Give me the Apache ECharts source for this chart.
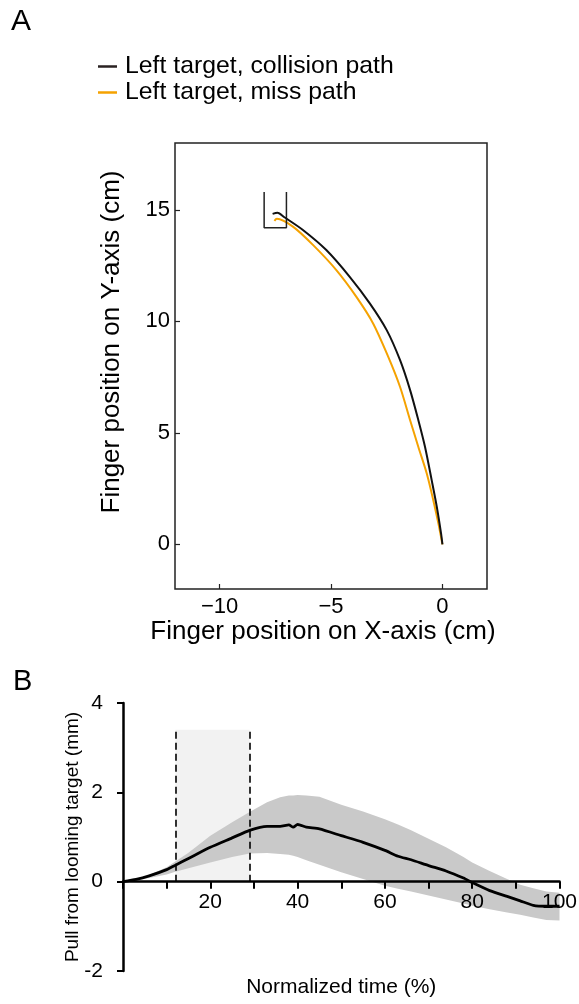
<!DOCTYPE html>
<html>
<head>
<meta charset="utf-8">
<script src="https://cdn.jsdelivr.net/npm/echarts@6/dist/echarts.min.js"></script>
<style>html,body{margin:0;padding:0;background:#fff}#c{width:579px;height:1004px}</style>
</head>
<body>
<div id="c"></div>
<script>
// ---------- Panel A data ----------
const legendNames = ['Left target, collision path', 'Left target, miss path'];
const collisionPath = [[0,0],[-0.06,0.48],[-0.25,1.67],[-0.48,2.87],[-0.78,4.37],[-1.08,5.57],[-1.45,6.92],[-1.9,8.26],[-2.5,9.61],[-3.26,10.81],[-4.16,12.0],[-5.21,13.2],[-6.26,14.1],[-7.09,14.67],[-7.4,14.87],[-7.62,14.82]];
const missPath = [[0,0],[-0.18,0.93],[-0.41,1.98],[-0.7,3.17],[-1.08,4.37],[-1.45,5.57],[-1.9,7.06],[-2.43,8.41],[-3.11,9.91],[-3.86,11.1],[-4.76,12.3],[-5.81,13.43],[-6.71,14.25],[-7.43,14.6],[-7.54,14.51]];
const targetBracket = [[-8,15.8],[-8,14.2],[-7,14.2],[-7,15.8]];
const xTicksA = [-10,-5,0];
const yTicksA = [0,5,10,15];

// ---------- Panel B data ----------
const timePct = [0,3,6,10,12,15,20,25,29,33,36,38,39,40,42,45,50,55,60,63,66,70,74,78,80,84,88,91,94,97,100];
const meanPull = [0,0.05,0.13,0.27,0.37,0.52,0.77,0.98,1.15,1.24,1.24,1.27,1.22,1.28,1.22,1.18,1.03,0.88,0.70,0.57,0.49,0.36,0.24,0.08,-0.02,-0.20,-0.33,-0.43,-0.53,-0.55,-0.55];
const upperPull = [0,0.06,0.15,0.32,0.45,0.65,1.03,1.33,1.56,1.78,1.89,1.93,1.93,1.94,1.93,1.90,1.72,1.57,1.40,1.28,1.15,0.96,0.77,0.55,0.43,0.24,0.06,-0.07,-0.15,-0.22,-0.25];
const lowerPull = [0,0.03,0.08,0.16,0.22,0.30,0.43,0.55,0.63,0.64,0.62,0.60,0.58,0.55,0.48,0.38,0.21,0.06,-0.09,-0.16,-0.22,-0.31,-0.40,-0.49,-0.54,-0.62,-0.69,-0.74,-0.80,-0.86,-0.87];
const windowStart = 12, windowEnd = 29, windowTop = 3.4;
const yMinB = -2, yMaxB = 4;

const FONT = '"Liberation Sans", Arial, Helvetica, sans-serif';
const chart = echarts.init(document.getElementById('c'), null, {renderer: 'canvas'});

const pair = (arr) => timePct.map((t, i) => [t, arr[i]]);
const minusFmt = v => v < 0 ? '\u2212' + Math.abs(v) : String(v);

// panel B layout (pixels)
const gridBTop = 703, gridBHeight = 268;
// move the time axis up so that it sits on y = 0
const zeroOffsetB = -gridBHeight * (0 - yMinB) / (yMaxB - yMinB);

chart.setOption({
  animation: false,
  textStyle: {fontFamily: FONT, color: '#000'},
  graphic: [
    {type: 'text', left: 11, top: 7, style: {text: 'A', font: '30px ' + FONT, fill: '#000'}},
    {type: 'text', left: 13, top: 667, style: {text: 'B', font: '29px ' + FONT, fill: '#000'}}
  ],
  legend: {
    data: legendNames,
    orient: 'vertical',
    left: 98, top: 54, padding: 0,
    icon: 'rect', itemWidth: 19, itemHeight: 2.5, itemGap: 1,
    textStyle: {fontSize: 24.8, fontFamily: FONT, color: '#000', padding: [0,0,0,3]}
  },
  grid: [
    {left: 175, top: 143, width: 312, height: 446, show: true, borderColor: '#222', borderWidth: 1.5, backgroundColor: 'transparent', outerBoundsMode: 'none', containLabel: false},
    {left: 123, top: gridBTop, width: 436.5, height: gridBHeight, outerBoundsMode: 'none', containLabel: false}
  ],
  xAxis: [
    {
      gridIndex: 0, type: 'value', min: -12, max: 2,
      axisLine: {show: false, onZero: false},
      axisTick: {show: true, inside: true, length: 5, customValues: xTicksA, lineStyle: {color: '#222', width: 1.2}},
      axisLabel: {customValues: xTicksA, formatter: minusFmt, fontSize: 22, color: '#000', margin: 7, fontFamily: FONT},
      splitLine: {show: false},
      name: 'Finger position on X-axis (cm)', nameLocation: 'middle', nameGap: 30,
      nameTextStyle: {fontSize: 26, color: '#000', fontFamily: FONT, padding: [0, 16, 0, 0]}
    },
    {
      gridIndex: 1, type: 'value', min: 0, max: 100, interval: 10, z: 3,
      position: 'bottom', offset: zeroOffsetB,
      axisLine: {show: true, onZero: false, lineStyle: {color: '#000', width: 2.5}},
      axisTick: {show: true, inside: false, length: 7, lineStyle: {color: '#000', width: 2}},
      axisLabel: {formatter: v => (v > 0 && v % 20 === 0) ? String(v) : '', fontSize: 21, color: '#000', margin: 10, fontFamily: FONT},
      splitLine: {show: false},
      name: 'Normalized time (%)', nameLocation: 'middle', nameGap: 95, nameMoveOverlap: false,
      nameTextStyle: {fontSize: 21, color: '#000', fontFamily: FONT}
    }
  ],
  yAxis: [
    {
      gridIndex: 0, type: 'value', min: -2, max: 18,
      axisLine: {show: false, onZero: false},
      axisTick: {show: true, inside: true, length: 5, customValues: yTicksA, lineStyle: {color: '#222', width: 1.2}},
      axisLabel: {customValues: yTicksA, formatter: minusFmt, fontSize: 22, color: '#000', margin: 5, fontFamily: FONT},
      splitLine: {show: false},
      name: 'Finger position on Y-axis (cm)', nameLocation: 'middle', nameGap: 50,
      nameTextStyle: {fontSize: 26, color: '#000', fontFamily: FONT, padding: [0, 0, 0, 48]}
    },
    {
      gridIndex: 1, type: 'value', min: yMinB, max: yMaxB, interval: 2, z: 3,
      axisLine: {show: true, onZero: false, lineStyle: {color: '#000', width: 2.5}},
      axisTick: {show: true, inside: false, length: 6, lineStyle: {color: '#000', width: 2}},
      axisLabel: {fontSize: 21, color: '#000', margin: 20, fontFamily: FONT},
      splitLine: {show: false},
      name: 'Pull from looming target (mm)', nameLocation: 'middle', nameGap: 41, nameMoveOverlap: false,
      nameTextStyle: {fontSize: 19, color: '#000', fontFamily: FONT}
    }
  ],
  series: [
    {
      name: legendNames[0], type: 'line', xAxisIndex: 0, yAxisIndex: 0,
      data: collisionPath, smooth: 0.3, showSymbol: false, symbol: 'none',
      lineStyle: {color: '#111', width: 2}, itemStyle: {color: '#2a2222'}, z: 4
    },
    {
      name: legendNames[1], type: 'line', xAxisIndex: 0, yAxisIndex: 0,
      data: missPath, smooth: 0.3, showSymbol: false, symbol: 'none',
      lineStyle: {color: '#f5a200', width: 2}, itemStyle: {color: '#f5a200'}, z: 3
    },
    {
      name: 'target', type: 'line', xAxisIndex: 0, yAxisIndex: 0,
      data: targetBracket, showSymbol: false, symbol: 'none',
      lineStyle: {color: '#222', width: 1.5}, z: 3
    },
    {
      name: 'window', type: 'custom', xAxisIndex: 1, yAxisIndex: 1, z: 1, silent: true,
      data: [[windowStart, windowTop]],
      renderItem: (params, api) => {
        const p0 = api.coord([windowStart, windowTop]);
        const p1 = api.coord([windowEnd, 0]);
        return {type: 'rect', shape: {x: p0[0], y: p0[1], width: p1[0] - p0[0], height: p1[1] - p0[1]}, style: {fill: '#f2f2f2'}};
      }
    },
    {
      name: 'band', type: 'custom', xAxisIndex: 1, yAxisIndex: 1, z: 2, silent: true,
      data: [[0, 0]],
      renderItem: (params, api) => {
        const pts = [];
        timePct.forEach((t, i) => pts.push(api.coord([t, upperPull[i]])));
        for (let i = timePct.length - 1; i >= 0; i--) pts.push(api.coord([timePct[i], lowerPull[i]]));
        return {type: 'polygon', shape: {points: pts}, style: {fill: '#c9c9c9'}};
      }
    },
    {
      name: 'mean', type: 'line', xAxisIndex: 1, yAxisIndex: 1,
      data: pair(meanPull), smooth: 0.2, showSymbol: false, symbol: 'none',
      lineStyle: {color: '#000', width: 2.8}, z: 5,
      markLine: {
        silent: true, symbol: 'none', label: {show: false},
        lineStyle: {color: '#000', width: 1.6, type: [7, 4]},
        data: [
          [{coord: [windowStart, 0]}, {coord: [windowStart, windowTop]}],
          [{coord: [windowEnd, 0]}, {coord: [windowEnd, windowTop]}]
        ]
      }
    }
  ]
});
</script>
</body>
</html>
